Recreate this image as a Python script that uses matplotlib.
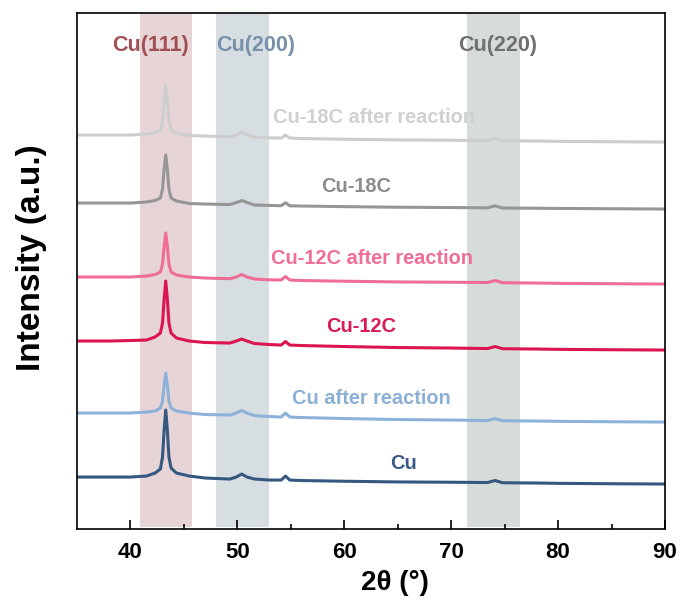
import numpy as np
import matplotlib
matplotlib.use('Agg')
import matplotlib.pyplot as plt

plt.rcParams['font.family'] = ['Liberation Sans', 'DejaVu Sans']

# 2theta sampling points shared by all patterns
two_theta = [35, 38, 40, 41.5, 42.3, 42.8, 43.0, 43.15, 43.3, 43.45, 43.6, 43.8, 44.3, 45.5,
             47, 49.3, 49.9, 50.4, 50.9, 51.6, 53, 54.1, 54.5, 54.9, 56, 60, 65, 70,
             73.4, 74.1, 74.8, 78, 80, 85, 90]

# stacked intensities (a.u., offsets already included)
cu = [52, 52, 52, 53, 56, 60, 72, 99, 119, 99, 72, 61, 56, 53,
      51, 50, 52, 55, 52, 50, 49, 49, 53, 49, 48.5, 47.8, 47.1, 46.8,
      46.5, 48.5, 46.3, 46, 45.7, 45.3, 45]
cu_after = [116, 116, 116, 117, 118, 121, 128, 144, 156, 144, 128, 121, 118, 116,
            114.5, 114, 116, 118.5, 116, 113.5, 112.5, 112, 116, 112, 111.5, 110.5, 109.5, 109,
            108.5, 110.5, 108.3, 108, 107.7, 107.3, 107]
cu_12c = [188, 188, 188.5, 189, 192, 196, 206, 230, 248, 230, 206, 196, 191, 188,
          186.5, 186, 188, 190, 188, 185.5, 184.5, 184, 187.5, 184, 183.5, 182.5, 181.5, 181,
          180.5, 182.5, 180.3, 180, 179.7, 179.3, 179]
cu_12c_after = [252, 252, 252, 253, 254.5, 257, 265, 283, 296, 283, 265, 257, 254, 252,
                251, 250.3, 252, 254.5, 252, 250, 249.2, 249, 252.5, 249, 248.5, 247.8, 247.1, 246.8,
                246.5, 248.5, 246.3, 246, 245.7, 245.3, 245]
cu_18c = [326, 326, 326, 327, 328.5, 331, 340, 360, 374, 360, 340, 331, 328, 325.5,
          325, 324.5, 326.5, 328.5, 326.5, 324, 323.6, 323.3, 326.3, 323.2, 323, 322.4, 321.8, 321.5,
          321.2, 323.2, 321, 320.8, 320.6, 320.3, 320]
cu_18c_after = [394, 394, 394, 395, 396.5, 399, 408, 428, 444, 428, 408, 399, 396, 393.5,
                393, 392.3, 394, 397, 394, 392, 391.2, 391, 394, 391, 390.5, 389.8, 389.1, 388.8,
                388.5, 390.5, 388.3, 388, 387.7, 387.3, 387]

samples = ['Cu', 'Cu after reaction', 'Cu-12C', 'Cu-12C after reaction', 'Cu-18C', 'Cu-18C after reaction']
patterns = [cu, cu_after, cu_12c, cu_12c_after, cu_18c, cu_18c_after]
line_colors = ['#34587f', '#8cb2d9', '#dc1450', '#f06e96', '#969696', '#cdcdcd']
text_colors = ['#3c5a87', '#8ab0d6', '#d81b55', '#f06d98', '#8c8c8c', '#d0d0d0']
label_pos = [(65.5, 66), (62.55, 131), (61.6, 203), (62.6, 271), (61.15, 343), (62.8, 412)]

# reference reflections
planes = ['Cu(111)', 'Cu(200)', 'Cu(220)']
band_ranges = [(40.9, 45.8), (48.0, 53.0), (71.5, 76.4)]
band_colors = ['#e7d4d6', '#d6dee2', '#d6dcd8']
plane_colors = ['#a05055', '#7891aa', '#707070']
plane_label_x = [41.85, 51.7, 74.3]

fig = plt.figure(figsize=(6.82, 6.06), dpi=100)
ax = fig.add_axes([0.1129, 0.127, 0.8622, 0.8515])

for (lo, hi), c in zip(band_ranges, band_colors):
    ax.axvspan(lo, hi, ymin=0.004, ymax=1, color=c, lw=0, zorder=0)

for name, c, x in zip(planes, plane_colors, plane_label_x):
    ax.text(x, 484, name, color=c, fontsize=15.5, fontweight='bold', ha='center', va='center')

for y, lc, tc, name, (tx, ty) in zip(patterns, line_colors, text_colors, samples, label_pos):
    ax.plot(two_theta, y, color=lc, lw=2.2, zorder=2)
    ax.text(tx, ty, name, color=tc, fontsize=14.4, fontweight='bold', ha='center', va='center')

ax.set_xlim(35, 90)
ax.set_ylim(0, 516)
ax.set_xticks([40, 50, 60, 70, 80, 90])
ax.set_xticks([45, 55, 65, 75, 85], minor=True)
ax.set_yticks([])
ax.tick_params(axis='x', which='major', direction='in', length=6.5, width=1.2,
               labelsize=16, pad=9)
ax.tick_params(axis='x', which='minor', direction='in', length=3.5, width=1.2)
for lab in ax.get_xticklabels():
    lab.set_fontweight('bold')
for s in ax.spines.values():
    s.set_linewidth(1.2)

ax.set_xlabel('2θ (°)', fontsize=20, fontweight='bold')
ax.xaxis.set_label_coords(0.541, -0.08)
ax.set_ylabel('Intensity (a.u.)', fontsize=24, fontweight='bold')
ax.yaxis.set_label_coords(-0.051, 0.525)

fig.savefig('out.png', dpi=100)
